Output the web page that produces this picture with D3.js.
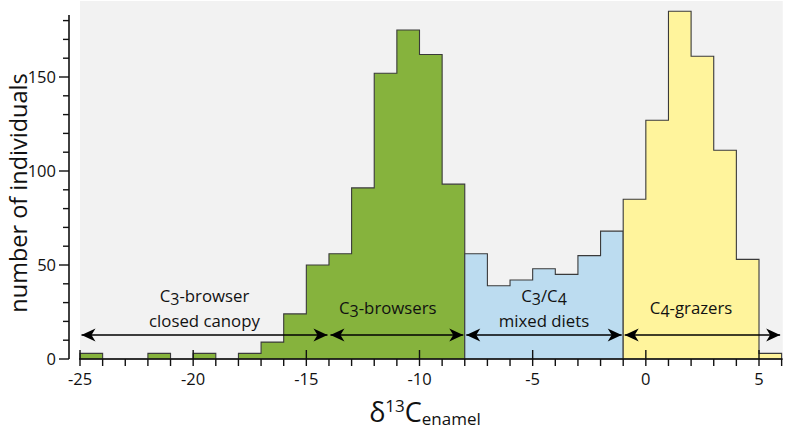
<!DOCTYPE html>
<html><head><meta charset="utf-8">
<script src="https://cdn.jsdelivr.net/npm/d3@7/dist/d3.min.js"></script>
<style>
html,body{margin:0;padding:0;background:#fff;}
svg{display:block;font-family:"Open Sans",sans-serif;}
</style></head>
<body><svg id="chart" width="786" height="432"></svg>
<script>
// Histogram bins (width 1 per-mil), start of each bin
const c3Start = -25;
const c3Counts = [3,0,0,3,0,3,0,3,9,24,50,56,91,152,175,162,93];
const mixedStart = -8;
const mixedCounts = [56,39,42,48,45,55,68];
const c4Start = -1;
const c4Counts = [85,127,185,161,111,53,3];

const xTickLabels = [-25,-20,-15,-10,-5,0,5];
const yTickLabels = [0,50,100,150];

const arrowSpans = [[-25,-14],[-14,-8],[-8,-1],[-1,6]];
const regionLabels = [
  {x:-19.5, lines:[["C","3","-browser"],["closed canopy"]]},
  {x:-11.4, lines:[["C","3","-browsers"]]},
  {x:-4.5,  lines:[["C","3","/C","4"],["mixed diets"]]},
  {x:2.0,   lines:[["C","4","-grazers"]]}
];

const svg = d3.select("#chart");
const x = d3.scaleLinear().domain([-25,5]).range([80,759]);
const y = d3.scaleLinear().domain([0,50]).range([359,265]);

// panel background
svg.append("rect").attr("x",x(-25)).attr("y",1)
  .attr("width",x(6.05)-x(-25)).attr("height",y(0)-1).attr("fill","#f2f2f2");

function groupPoints(start, counts){
  const pts = counts.map((v,i)=>[start+i, v]);
  pts.push([start+counts.length, counts[counts.length-1]]);
  return pts;
}
const area = d3.area().curve(d3.curveStepAfter)
  .x(d=>x(d[0])).y0(y(0)).y1(d=>y(d[1]));

const groups = [
  {start:c3Start, counts:c3Counts, fill:"#86b33d"},
  {start:mixedStart, counts:mixedCounts, fill:"#bcdcf0"},
  {start:c4Start, counts:c4Counts, fill:"#fff49c"}
];
groups.forEach(g=>{
  svg.append("path").datum(groupPoints(g.start,g.counts))
    .attr("d",area).attr("fill",g.fill)
    .attr("stroke","#3a3a3a").attr("stroke-width",1.1).attr("stroke-linejoin","miter");
});

// axes
const axisColor = "#111";
// y axis
const yAxisX = 69;
const yAxis = svg.append("g").attr("transform",`translate(${yAxisX},0)`);
yAxis.append("line").attr("x1",0).attr("x2",0).attr("y1",y(0)).attr("y2",15)
  .attr("stroke",axisColor).attr("stroke-width",1.6);
d3.range(0,181,10).forEach(v=>{
  const major = v%50===0;
  yAxis.append("line").attr("x1",major?-10:-6).attr("x2",0)
    .attr("y1",y(v)).attr("y2",y(v)).attr("stroke",axisColor).attr("stroke-width",1.4);
});
yAxis.selectAll("text.yt").data(yTickLabels).join("text").attr("class","yt")
  .attr("x",-13).attr("y",d=>y(d)).attr("dy","0.36em").attr("text-anchor","end")
  .attr("font-size",16.5).attr("fill","#111").text(d=>d);

// x axis
const xAxis = svg.append("g");
xAxis.append("line").attr("x1",x(-25)-1).attr("x2",x(6)+1).attr("y1",y(0)).attr("y2",y(0))
  .attr("stroke",axisColor).attr("stroke-width",1.6);
d3.range(-25,7,1).forEach(v=>{
  const major = v%5===0;
  xAxis.append("line").attr("x1",x(v)).attr("x2",x(v))
    .attr("y1",major?y(0)-9:y(0)).attr("y2",y(0)+7)
    .attr("stroke",axisColor).attr("stroke-width",1.4);
});
xAxis.selectAll("text.xt").data(xTickLabels).join("text").attr("class","xt")
  .attr("x",d=>x(d)).attr("y",385).attr("text-anchor","middle")
  .attr("font-size",16.5).attr("fill","#111").text(d=>d);

// arrows
const defs = svg.append("defs");
defs.append("marker").attr("id","ah").attr("viewBox","-15 -7 16 14")
  .attr("refX",0).attr("refY",0).attr("markerWidth",16).attr("markerHeight",14)
  .attr("markerUnits","userSpaceOnUse").attr("orient","auto-start-reverse")
  .append("path").attr("d","M0,0 L-14,-6.5 L-10,0 L-14,6.5 Z").attr("fill","#000");
const arrowY = 335;
arrowSpans.forEach(s=>{
  svg.append("line").attr("x1",x(s[0])+1.5).attr("x2",x(s[1])-1.5)
    .attr("y1",arrowY).attr("y2",arrowY).attr("stroke","#000").attr("stroke-width",1.6)
    .attr("marker-start","url(#ah)").attr("marker-end","url(#ah)");
});

// region labels
regionLabels.forEach(l=>{
  const n = l.lines.length;
  l.lines.forEach((parts,i)=>{
    const base = n===2 ? (i===0?302:327) : 314;
    const t = svg.append("text").attr("x",x(l.x)).attr("y",base)
      .attr("text-anchor","middle").attr("font-size",16.8).attr("fill","#111");
    parts.forEach((p,j)=>{
      const isSub = /^[34]$/.test(p);
      const ts = t.append("tspan").text(p);
      if(isSub){ ts.attr("font-size",16).attr("dy",2.5); }
      else if(j>0 && /^[34]$/.test(parts[j-1])){ ts.attr("dy",-2.5); }
    });
  });
});

// axis titles
svg.append("text").attr("transform","translate(27,193) rotate(-90)")
  .attr("text-anchor","middle").attr("font-size",23.5).attr("fill","#111")
  .text("number of individuals");

const xt = svg.append("text").attr("x",425).attr("y",422).attr("text-anchor","middle")
  .attr("font-size",27).attr("fill","#111");
xt.append("tspan").text("δ");
xt.append("tspan").attr("font-size",17).attr("dy",-10).text("13");
xt.append("tspan").attr("dy",10).text("C");
xt.append("tspan").attr("font-size",17).attr("dy",3).text("enamel");
</script></body></html>
